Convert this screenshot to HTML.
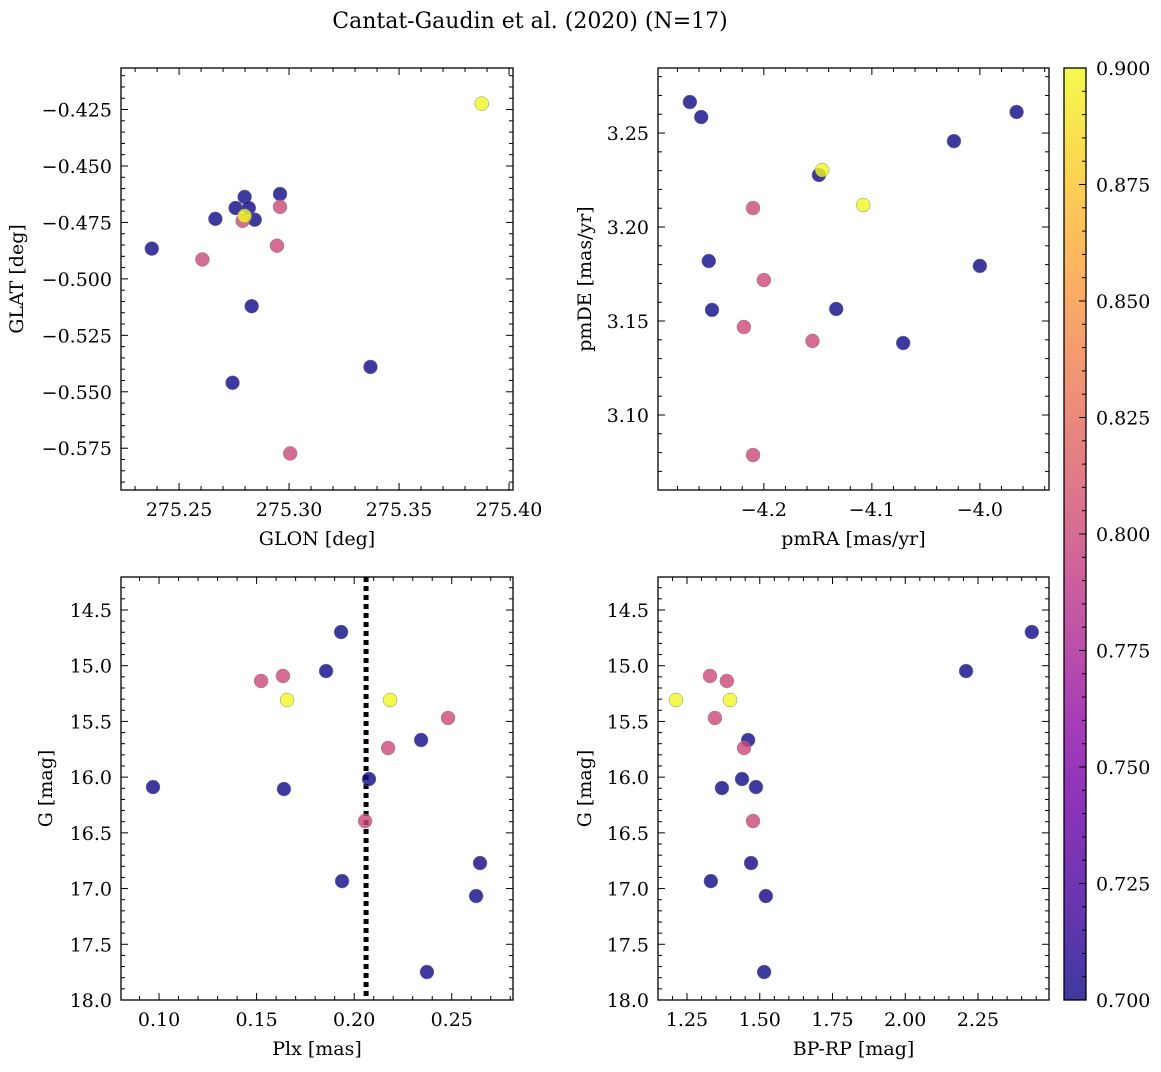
<!DOCTYPE html>
<html><head><meta charset="utf-8">
<style>
html,body{margin:0;padding:0;background:#fff;}
svg text{font-family:"DejaVu Serif","Liberation Serif",serif;fill:#000;}
</style></head>
<body>
<svg id="chart" width="1161" height="1067" viewBox="0 0 1161 1067" xmlns="http://www.w3.org/2000/svg">
<defs>
<linearGradient id="plasma" x1="0" y1="1" x2="0" y2="0">
<stop offset="0" stop-color="#0d0887"/><stop offset="0.1" stop-color="#41049d"/>
<stop offset="0.2" stop-color="#6a00a8"/><stop offset="0.3" stop-color="#8f0da4"/>
<stop offset="0.4" stop-color="#b12a90"/><stop offset="0.5" stop-color="#cc4778"/>
<stop offset="0.6" stop-color="#e16462"/><stop offset="0.7" stop-color="#f2844b"/>
<stop offset="0.8" stop-color="#fca636"/><stop offset="0.9" stop-color="#fcce25"/><stop offset="1" stop-color="#f0f921"/>
</linearGradient>
</defs>
<text x="530" y="28" font-size="22" text-anchor="middle">Cantat-Gaudin et al. (2020) (N=17)</text>
<g id="root"></g>
</svg>
<script>
// panel 1: GLON / GLAT
const probA = [0.9,0.7,0.7,0.7,0.7,0.7,0.7,0.8,0.8,0.9,0.7,0.8,0.8,0.7,0.7,0.7,0.8];
const glon = [275.3876,275.2959,275.2798,275.2757,275.2817,275.2665,275.2844,275.2959,275.2789,275.2798,275.2376,275.2606,275.2945,275.2830,275.3370,275.2743,275.3005];
const glat = [-0.4224,-0.4624,-0.4637,-0.4686,-0.4686,-0.4734,-0.4738,-0.4681,-0.4743,-0.4721,-0.4866,-0.4914,-0.4853,-0.5121,-0.5390,-0.5460,-0.5773];
// panel 2: proper motions
const probB = [0.7,0.7,0.7,0.7,0.7,0.9,0.9,0.8,0.7,0.7,0.8,0.7,0.7,0.8,0.8,0.7,0.8];
const pmra = [-4.2685,-4.258,-3.966,-4.024,-4.149,-4.146,-4.108,-4.210,-4.251,-4.0,-4.2,-4.248,-4.133,-4.2185,-4.155,-4.071,-4.210];
const pmde = [3.2665,3.2585,3.2612,3.2457,3.2277,3.2303,3.2117,3.2101,3.1819,3.1793,3.1718,3.1559,3.1564,3.1468,3.1394,3.1383,3.0787];
// panel 3: parallax / G
const probC = [0.7,0.7,0.8,0.8,0.9,0.9,0.8,0.7,0.8,0.7,0.7,0.7,0.8,0.7,0.7,0.7,0.7];
const plx = [0.1933,0.1856,0.1523,0.1635,0.1656,0.2184,0.2481,0.2343,0.2174,0.2076,0.0969,0.1640,0.2056,0.2645,0.1938,0.2625,0.2373];
const gmagC = [14.698,15.048,15.137,15.092,15.308,15.308,15.469,15.667,15.739,16.017,16.089,16.107,16.394,16.771,16.933,17.067,17.749];
const plxMark = [0.2061];
// panel 4: colour / G
const probD = [0.7,0.7,0.8,0.8,0.9,0.9,0.8,0.7,0.8,0.7,0.7,0.7,0.8,0.7,0.7,0.7,0.7];
const bprp = [2.435,2.209,1.329,1.387,1.212,1.398,1.346,1.460,1.446,1.439,1.370,1.487,1.477,1.470,1.332,1.521,1.515];
const gmagD = [14.698,15.048,15.092,15.137,15.308,15.308,15.469,15.667,15.739,16.017,16.098,16.089,16.394,16.771,16.933,17.067,17.749];

const NS="http://www.w3.org/2000/svg";
const root=document.getElementById('root');
function el(t,a,p){const e=document.createElementNS(NS,t);for(const k in a)e.setAttribute(k,a[k]);(p||root).appendChild(e);return e;}
const stops=[[0,[13,8,135]],[0.1,[65,4,157]],[0.2,[106,0,168]],[0.3,[143,13,164]],[0.4,[177,42,144]],[0.5,[204,71,120]],[0.6,[225,100,98]],[0.7,[242,132,75]],[0.8,[252,166,54]],[0.9,[252,206,37]],[1,[240,249,33]]];
function cmap(v){let t=(v-0.7)/0.2;t=Math.max(0,Math.min(1,t));for(let i=1;i<stops.length;i++){if(t<=stops[i][0]+1e-9){const a=stops[i-1],b=stops[i];const f=(t-a[0])/(b[0]-a[0]);const c=a[1].map((x,j)=>Math.round(x+(b[1][j]-x)*f));return `rgb(${c})`;}}return 'rgb(240,249,33)';}
function fmt(v,d){let s=v.toFixed(d);return s.replace('-','\u2212');}

function panel(cfg){
  const g=el('g',{});
  
  
  const {x0,x1,y0,y1}=cfg;
  const sx=v=>x0+(v-cfg.xmin)/(cfg.xmax-cfg.xmin)*(x1-x0);
  const sy=cfg.invert? v=>y0+(v-cfg.ymin)/(cfg.ymax-cfg.ymin)*(y1-y0) : v=>y1-(v-cfg.ymin)/(cfg.ymax-cfg.ymin)*(y1-y0);
  const tk=el('g',{stroke:'#000','stroke-width':1},g);
  const lo=Math.min(cfg.xmin,cfg.xmax),hi=Math.max(cfg.xmin,cfg.xmax);
  for(let v=Math.ceil(lo/cfg.xminor-1e-6)*cfg.xminor;v<=hi+1e-9;v+=cfg.xminor){const X=sx(v);const maj=Math.abs(v/cfg.xmajor-Math.round(v/cfg.xmajor))<1e-4;const L=maj?7:4;
    el('line',{x1:X,x2:X,y1:y1,y2:y1-L},tk);el('line',{x1:X,x2:X,y1:y0,y2:y0+L},tk);
    if(maj){const t=el('text',{x:X,y:y1+26,'font-size':19,'text-anchor':'middle',stroke:'none'},g);t.textContent=fmt(v,cfg.xd);}}
  const ylo=Math.min(cfg.ymin,cfg.ymax),yhi=Math.max(cfg.ymin,cfg.ymax);
  for(let v=Math.ceil(ylo/cfg.yminor-1e-6)*cfg.yminor;v<=yhi+1e-9;v+=cfg.yminor){const Y=sy(v);const maj=Math.abs(v/cfg.ymajor-Math.round(v/cfg.ymajor))<1e-4;const L=maj?7:4;
    el('line',{x1:x0,x2:x0+L,y1:Y,y2:Y},tk);el('line',{x1:x1,x2:x1-L,y1:Y,y2:Y},tk);
    if(maj){const t=el('text',{x:x0-9,y:Y+7,'font-size':19,'text-anchor':'end',stroke:'none'},g);t.textContent=fmt(v,cfg.yd);}}
  if(cfg.vline){const X=sx(cfg.vline[0]);const l=el('line',{x1:X,x2:X,y1:y0,y2:y1,stroke:'#000','stroke-width':5,'stroke-dasharray':'5,4'},g);}
  for(let i=0;i<cfg.xs.length;i++){const c=el('circle',{cx:sx(cfg.xs[i]),cy:sy(cfg.ys[i]),r:7,fill:cmap(cfg.cs[i]),'fill-opacity':0.8,stroke:'#888','stroke-width':0.5},g);
    }
  const b=el('rect',{x:x0,y:y0,width:x1-x0,height:y1-y0,fill:'none',stroke:'#000','stroke-width':1.3},g);
  
  const xl=el('text',{x:(x0+x1)/2,y:y1+55,'font-size':19,'text-anchor':'middle'},g);xl.textContent=cfg.xlabel;
  
  const yc=(y0+y1)/2;const yl=el('text',{x:cfg.ylx,y:yc,'font-size':19,'text-anchor':'middle',transform:`rotate(-90 ${cfg.ylx} ${yc})`},g);yl.textContent=cfg.ylabel;
  
}
panel({name:'glon-glat-panel',x0:121,x1:513,y0:68,y1:490,xmin:275.2236,xmax:275.4018,ymin:-0.5935,ymax:-0.4066,xmajor:0.05,xminor:0.01,ymajor:0.025,yminor:0.005,xd:2,yd:3,xs:glon,ys:glat,cs:probA,xlabel:'GLON [deg]',ylabel:'GLAT [deg]',ylx:23});
panel({name:'proper-motion-panel',x0:658,x1:1049,y0:68,y1:490,xmin:-4.298,xmax:-3.936,ymin:3.0601,ymax:3.2846,xmajor:0.1,xminor:0.02,ymajor:0.05,yminor:0.01,xd:1,yd:2,xs:pmra,ys:pmde,cs:probB,xlabel:'pmRA [mas/yr]',ylabel:'pmDE [mas/yr]',ylx:591});
panel({name:'parallax-mag-panel',x0:121,x1:513,y0:577,y1:1000,invert:true,xmin:0.0805,xmax:0.2814,ymin:14.204,ymax:18.0,xmajor:0.05,xminor:0.01,ymajor:0.5,yminor:0.1,xd:2,yd:1,xs:plx,ys:gmagC,cs:probC,xlabel:'Plx [mas]',ylabel:'G [mag]',ylx:52,vline:plxMark});
panel({name:'color-mag-panel',x0:658,x1:1049,y0:577,y1:1000,invert:true,xmin:1.1503,xmax:2.4940,ymin:14.204,ymax:18.0,xmajor:0.25,xminor:0.05,ymajor:0.5,yminor:0.1,xd:2,yd:1,xs:bprp,ys:gmagD,cs:probD,xlabel:'BP-RP [mag]',ylabel:'G [mag]',ylx:591});
// colorbar
const cbTicks=[0.700,0.725,0.750,0.775,0.800,0.825,0.850,0.875,0.900];
const cb=el('g',{});
el('rect',{x:1064,y:68,width:22,height:932,fill:'url(#plasma)','fill-opacity':0.8},cb);
el('rect',{x:1064,y:68,width:22,height:932,fill:'none',stroke:'#000','stroke-width':1.3},cb);
const cy=v=>1000-(v-0.7)/0.2*932;
for(let v=0.7;v<=0.9001;v+=0.005){const Y=cy(v);const maj=Math.abs(v/0.025-Math.round(v/0.025))<1e-4;el('line',{x1:1086,x2:1086-(maj?7:4),y1:Y,y2:Y,stroke:'#000','stroke-width':1},cb);}
cbTicks.forEach(v=>{const t=el('text',{x:1096,y:cy(v)+7,'font-size':19},cb);t.textContent=v.toFixed(3);});
</script>
</body></html>
